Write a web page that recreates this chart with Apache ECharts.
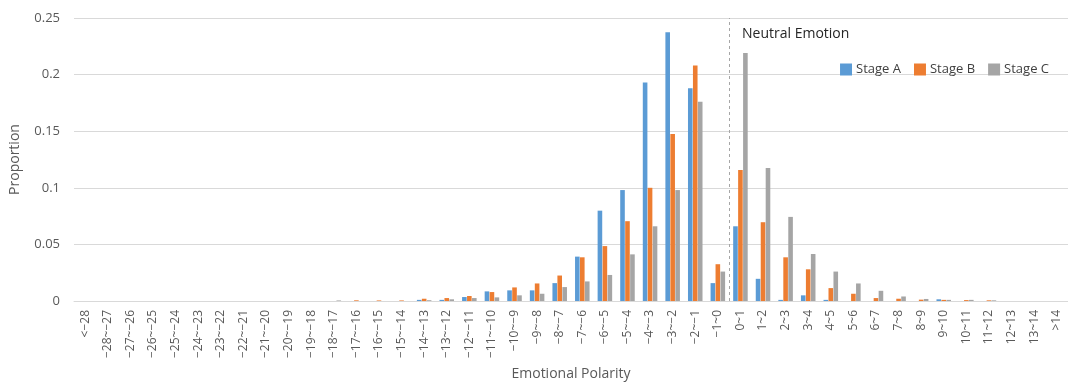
<!DOCTYPE html>
<html>
<head>
<meta charset="utf-8">
<script src="https://cdn.jsdelivr.net/npm/echarts@6/dist/echarts.min.js"></script>
<style>html,body{margin:0;padding:0;background:#fff}#c{width:1068px;height:386px}</style>
</head>
<body>
<div id="c"></div>
<script>
const categories = ["<−28","−28~−27","−27~−26","−26~−25","−25~−24","−24~−23","−23~−22","−22~−21","−21~−20","−20~−19","−19~−18","−18~−17","−17~−16","−16~−15","−15~−14","−14~−13","−13~−12","−12~−11","−11~−10","−10~−9","−9~−8","−8~−7","−7~−6","−6~−5","−5~−4","−4~−3","−3~−2","−2~−1","−1~0","0~1","1~2","2~3","3~4","4~5","5~6","6~7","7~8","8~9","9~10","10~11","11~12","12~13","13~14",">14"];
const stageA = [0,0,0,0,0,0,0,0,0,0,0,0,0,0,0,0.001,0.001,0.0035,0.0085,0.0094,0.0094,0.0158,0.0392,0.0798,0.098,0.193,0.2374,0.188,0.0158,0.066,0.0196,0.001,0.005,0.001,0,0,0,0,0.0015,0,0,0,0,0];
const stageB = [0,0,0,0,0,0,0,0,0,0,0,0,0.0006,0.0005,0.0005,0.002,0.0026,0.0044,0.0079,0.012,0.0155,0.0225,0.0386,0.0485,0.0705,0.100,0.1476,0.208,0.0325,0.1158,0.0696,0.0386,0.028,0.0114,0.0064,0.0026,0.002,0.0012,0.001,0.0008,0.0006,0,0,0];
const stageC = [0,0,0,0,0,0,0,0,0,0,0,0.0005,0,0,0,0.0007,0.0015,0.0026,0.0032,0.005,0.0064,0.0123,0.0173,0.023,0.0412,0.066,0.098,0.176,0.026,0.219,0.1175,0.0743,0.0415,0.026,0.0155,0.009,0.004,0.0018,0.001,0.001,0.0006,0,0,0];
const neutralBoundary = 29;

const chart = echarts.init(document.getElementById('c'));
const font = "'Open Sans', 'Noto Sans', sans-serif";
const txt = '#595959';
chart.setOption({
  animation: false,
  textStyle: {fontFamily: font},
  color: ['#5B9BD5','#ED7D31','#A5A5A5'],
  title: {
    text: 'Neutral Emotion',
    left: 737, top: 22,
    textStyle: {fontFamily: font, fontSize: 14, fontWeight: 'normal', color: '#262626'}
  },
  legend: {
    data: ['Stage A','Stage B','Stage C'],
    right: 14, top: 58,
    itemWidth: 12, itemHeight: 12, itemGap: 13,
    icon: 'rect',
    textStyle: {fontFamily: font, fontSize: 13, color: '#404040', padding: [0,0,0,-1]}
  },
  grid: {left: 74, top: 18, width: 999, bottom: 80, containLabel: false},
  xAxis: [{
    type: 'category',
    data: categories,
    boundaryGap: true,
    axisLine: {show: true, lineStyle: {color: '#D9D9D9'}},
    axisTick: {show: false},
    axisLabel: {rotate: 90, fontSize: 12, color: txt, margin: 9, interval: 0, fontFamily: font},
    name: 'Emotional Polarity',
    nameLocation: 'middle',
    nameGap: 66,
    nameTextStyle: {fontSize: 14, color: txt, fontFamily: font}
  },{
    type: 'value', min: 0, max: categories.length, show: false
  }],
  yAxis: {
    type: 'value',
    min: 0, max: 0.25, interval: 0.05,
    axisLine: {show: false},
    axisTick: {show: false},
    splitLine: {lineStyle: {color: '#D9D9D9'}},
    axisLabel: {fontSize: 13, color: txt, margin: 14, fontFamily: font},
    name: 'Proportion',
    nameLocation: 'middle',
    nameGap: 52,
    nameTextStyle: {fontSize: 14, color: txt, fontFamily: font}
  },
  series: [
    {name: 'Stage A', type: 'bar', data: stageA, barWidth: 4.6, barGap: '8%'},
    {name: 'Stage B', type: 'bar', data: stageB, barWidth: 4.6, barGap: '8%'},
    {name: 'Stage C', type: 'bar', data: stageC, barWidth: 4.6, barGap: '8%'},
    {name: 'neutral', type: 'line', xAxisIndex: 1, data: [],
     markLine: {silent: true, symbol: 'none', label: {show: false},
       lineStyle: {type: [3,3], color: '#A6A6A6', width: 1},
       data: [{xAxis: neutralBoundary}]}}
  ]
});
</script>
</body>
</html>
